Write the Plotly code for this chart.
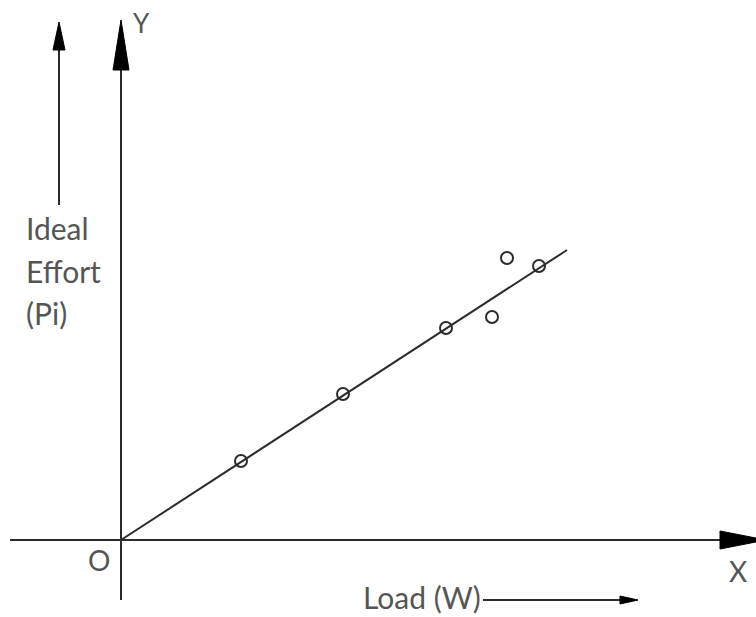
import plotly.graph_objects as go

# Observed points (load W, ideal effort Pi) in arbitrary units
load = [1.20, 2.22, 3.25, 4.18, 3.86, 3.71]
effort = [0.79, 1.46, 2.12, 2.74, 2.82, 2.23]

# Best-fit line through origin
fit_load = [0.0, 4.46]
fit_effort = [0.0, 2.90]

# Axes extents
x_axis_x = [-1.11, 6.0]
x_axis_y = [0.0, 0.0]
y_axis_x = [0.0, 0.0]
y_axis_y = [-0.60, 4.75]

INK = "#2b2b2b"
TXT = "#555555"
FONT = "Lato"

fig = go.Figure()

# axes
fig.add_trace(go.Scatter(x=x_axis_x, y=x_axis_y, mode="lines",
                         line=dict(color=INK, width=2), hoverinfo="skip"))
fig.add_trace(go.Scatter(x=y_axis_x, y=y_axis_y, mode="lines",
                         line=dict(color=INK, width=2), hoverinfo="skip"))
# fit line
fig.add_trace(go.Scatter(x=fit_load, y=fit_effort, mode="lines",
                         line=dict(color=INK, width=2), hoverinfo="skip"))
# observations
fig.add_trace(go.Scatter(x=load, y=effort, mode="markers",
                         marker=dict(symbol="circle-open", size=12,
                                     color=INK, line=dict(width=2))))

shapes = []
# Y arrowhead
shapes.append(dict(type="path", path="M 0 5.20 L -0.08 4.70 L 0.08 4.70 Z",
                   fillcolor="black", line=dict(color="black", width=1)))
# X arrowhead
shapes.append(dict(type="path", path="M 6.45 0 L 5.99 0.09 L 5.99 -0.09 Z",
                   fillcolor="black", line=dict(color="black", width=1)))
# left effort arrow
shapes.append(dict(type="line", x0=-0.62, y0=3.35, x1=-0.62, y1=4.95,
                   line=dict(color=INK, width=2)))
shapes.append(dict(type="path", path="M -0.62 5.18 L -0.68 4.90 L -0.56 4.90 Z",
                   fillcolor="black", line=dict(color="black", width=1)))
# load arrow
shapes.append(dict(type="line", x0=3.62, y0=-0.60, x1=5.0, y1=-0.60,
                   line=dict(color=INK, width=2)))
shapes.append(dict(type="path", path="M 5.17 -0.60 L 4.99 -0.56 L 4.99 -0.64 Z",
                   fillcolor="black", line=dict(color="black", width=1)))

ann = []
def txt(x, y, s, size=32, xanchor="center"):
    ann.append(dict(x=x, y=y, text=s, showarrow=False, xanchor=xanchor,
                    yanchor="middle", font=dict(family=FONT, size=size, color=TXT)))

txt(0.20, 5.17, "Y", 26)
txt(6.17, -0.31, "X", 28)
txt(-0.22, -0.20, "O", 28)
txt(-0.97, 3.12, "Ideal", 30, "left")
txt(-0.97, 2.69, "Effort", 30, "left")
txt(-0.97, 2.27, "(Pi)", 30, "left")
txt(3.62, -0.57, "Load (W)", 30, "right")

fig.update_layout(
    width=756, height=617,
    margin=dict(l=0, r=0, t=0, b=0),
    paper_bgcolor="white", plot_bgcolor="white",
    showlegend=False,
    shapes=shapes, annotations=ann,
    xaxis=dict(range=[-1.21, 6.35], visible=False, fixedrange=True),
    yaxis=dict(range=[-0.77, 5.40], visible=False, fixedrange=True),
)

fig.write_html("out.html", config={"displayModeBar": False},
               post_script="document.body.style.margin='0';document.body.style.padding='0';")
